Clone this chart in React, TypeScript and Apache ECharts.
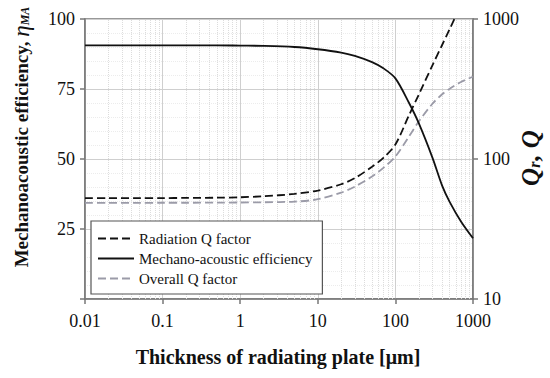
import React, { useEffect, useRef } from "react";
import * as echarts from "echarts";

const thickness = [0.01, 0.02, 0.05, 0.1, 0.2, 0.5, 1, 2, 5, 10, 20, 30, 50, 70, 100, 150, 200, 300, 400, 500, 700, 1000];
const efficiency = [90.6, 90.6, 90.6, 90.6, 90.6, 90.6, 90.5, 90.4, 90.0, 89.2, 88.0, 86.8, 84.6, 82.4, 78.8, 70.0, 62.8, 50.5, 40.5, 34.7, 27.7, 21.7];
const radiationQ = [52.5, 52.5, 52.5, 52.6, 52.7, 52.9, 53.3, 54.2, 56.3, 59.5, 66, 73, 88, 102, 127, 206, 288, 467, 652, 847, 1257, 1930];
const overallQ = [48.6, 48.6, 48.6, 48.7, 48.7, 48.8, 48.9, 49.1, 49.6, 51.6, 57.5, 63.5, 75, 86.5, 104, 145, 185, 248, 290, 318, 355, 387];
const decades = [0.01, 0.1, 1, 10, 100];
const minorSteps = [2, 3, 4, 5, 6, 7, 8, 9];
const legendNames = ["Radiation Q factor", "Mechano-acoustic efficiency", "Overall Q factor"];

const FONT = "Liberation Serif";

export default function App() {
  const ref = useRef<HTMLDivElement>(null);
  useEffect(() => {
    if (!ref.current) return;
    const chart = echarts.init(ref.current, undefined, { renderer: "svg" });
    const minorLines: any[] = [];
    decades.forEach((d) => minorSteps.forEach((k) => minorLines.push({ xAxis: +(d * k).toPrecision(3) })));
    const zip = (ys: number[]) => thickness.map((x, i) => [x, ys[i]]);
    const labelStyle = { fontFamily: FONT, fontSize: 18, color: "#111" };
    chart.setOption({
      animation: false,
      backgroundColor: "#fff",
      grid: { left: 85, right: 77, top: 19, bottom: 79, show: true, borderColor: "#777", borderWidth: 1.5, backgroundColor: "transparent" },
      legend: {
        orient: "vertical",
        left: 91,
        top: 221,
        itemWidth: 36,
        itemHeight: 14,
        itemGap: 5,
        padding: [10, 10, 8, 6],
        backgroundColor: "#fff",
        borderColor: "#555",
        borderWidth: 1.2,
        itemStyle: { opacity: 0 },
        textStyle: { fontFamily: FONT, fontSize: 15, color: "#111" },
        data: legendNames,
      },
      xAxis: {
        type: "log",
        logBase: 10,
        min: 0.01,
        max: 1000,
        axisLine: { show: true, lineStyle: { color: "#777", width: 1.5 } },
        axisTick: { show: true, inside: false, length: 5, lineStyle: { color: "#777", width: 1.5 } },
        axisLabel: { ...labelStyle, margin: 13, formatter: (v: number) => String(+v.toPrecision(3)) },
        splitLine: { show: true, lineStyle: { color: "#cfcfcf", width: 1 } },
      },
      yAxis: [
        {
          type: "value",
          min: 0,
          max: 100,
          interval: 25,
          axisLine: { show: true, lineStyle: { color: "#777", width: 1.5 } },
          axisTick: { show: true, inside: false, length: 5, lineStyle: { color: "#777", width: 1.5 } },
          axisLabel: { ...labelStyle, margin: 10, formatter: (v: number) => (v === 0 ? "" : String(v)) },
          splitLine: { show: true, lineStyle: { color: "#cfcfcf", width: 1 } },
          minorTick: { show: false, splitNumber: 5 },
          minorSplitLine: { show: true, lineStyle: { color: "#ececec", type: "dotted", width: 1 } },
        },
        {
          type: "log",
          logBase: 10,
          min: 10,
          max: 1000,
          position: "right",
          axisLine: { show: true, lineStyle: { color: "#777", width: 1.5 } },
          axisTick: { show: true, inside: false, length: 5, lineStyle: { color: "#777", width: 1.5 } },
          axisLabel: { ...labelStyle, margin: 10, formatter: (v: number) => String(Math.round(v)) },
          splitLine: { show: false },
        },
      ],
      series: [
        {
          name: "Radiation Q factor",
          type: "line",
          yAxisIndex: 1,
          data: zip(radiationQ),
          smooth: 0.3,
          symbol: "none",
          showSymbol: false,
          clip: true,
          lineStyle: { color: "#111", width: 1.8, type: [8, 4] },
          itemStyle: { color: "#111" },
          z: 4,
        },
        {
          name: "Mechano-acoustic efficiency",
          type: "line",
          yAxisIndex: 0,
          data: zip(efficiency),
          smooth: 0.3,
          symbol: "none",
          showSymbol: false,
          clip: true,
          lineStyle: { color: "#111", width: 1.8, type: "solid" },
          itemStyle: { color: "#111" },
          z: 4,
          markLine: {
            silent: true,
            symbol: ["none", "none"],
            label: { show: false },
            lineStyle: { color: "#dcdcdc", type: "dotted", width: 1 },
            emphasis: { disabled: true },
            data: minorLines,
            z: 1,
          },
        },
        {
          name: "Overall Q factor",
          type: "line",
          yAxisIndex: 1,
          data: zip(overallQ),
          smooth: 0.3,
          symbol: "none",
          showSymbol: false,
          clip: true,
          lineStyle: { color: "#9b9ba8", width: 1.8, type: [8, 4] },
          itemStyle: { color: "#9b9ba8" },
          z: 3,
        },
      ],
      graphic: [
        {
          type: "text",
          x: 21,
          y: 137,
          rotation: Math.PI / 2,
          style: {
            text: "{b|Mechanoacoustic efficiency, }{i|η}{m|MA}",
            align: "center",
            verticalAlign: "middle",
            fill: "#111",
            rich: {
              b: { fontFamily: FONT, fontWeight: "bold", fontSize: 19, fill: "#111" },
              i: { fontFamily: FONT, fontStyle: "italic", fontSize: 23, fill: "#111" },
              m: { fontFamily: FONT, fontStyle: "italic", fontWeight: "bold", fontSize: 12, fill: "#111", padding: [8, 0, 0, 0] },
            },
          },
        },
        {
          type: "text",
          x: 530,
          y: 158,
          rotation: Math.PI / 2,
          style: {
            text: "{q|Q}{r|r}{q|, Q}",
            align: "center",
            verticalAlign: "middle",
            fill: "#111",
            rich: {
              q: { fontFamily: FONT, fontStyle: "italic", fontWeight: "bold", fontSize: 25, fill: "#111" },
              r: { fontFamily: FONT, fontStyle: "italic", fontWeight: "bold", fontSize: 16, fill: "#111", padding: [9, 1, 0, 0] },
            },
          },
        },
        {
          type: "text",
          x: 278,
          y: 357,
          style: {
            text: "Thickness of radiating plate [μm]",
            align: "center",
            verticalAlign: "middle",
            fontFamily: FONT,
            fontWeight: "bold",
            fontSize: 20,
            fill: "#111",
          },
        },
      ],
    });
    return () => chart.dispose();
  }, []);
  return <div ref={ref} style={{ width: 550, height: 378, position: "absolute", left: 0, top: 0 }} />;
}
